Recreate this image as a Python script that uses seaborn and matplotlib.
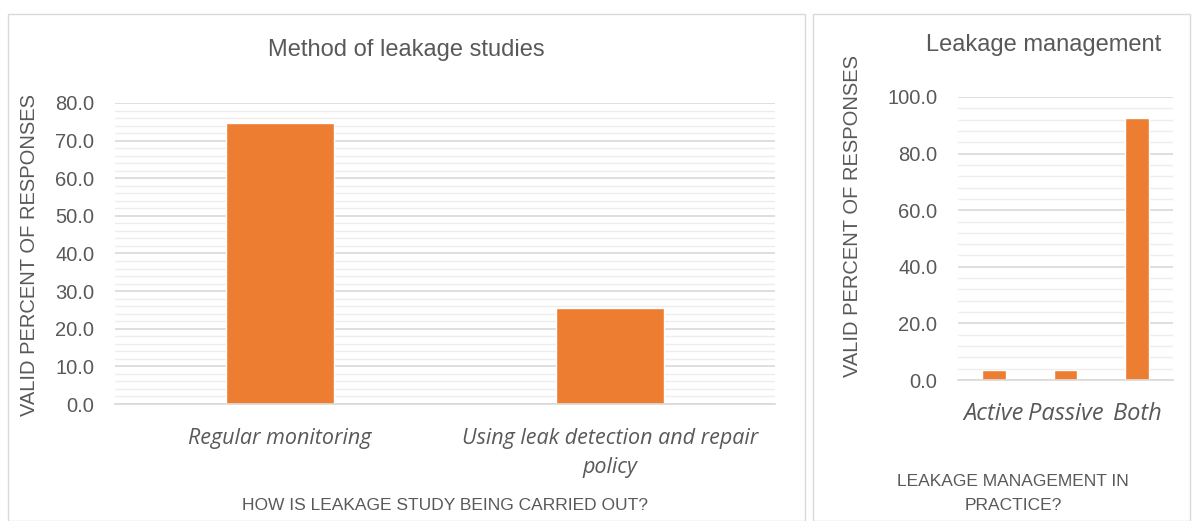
import seaborn as sns
import matplotlib.pyplot as plt
import pandas as pd
from matplotlib.patches import Rectangle
from matplotlib.ticker import MultipleLocator, FormatStrFormatter

# data
study_methods = ["Regular monitoring", "Using leak detection and repair\npolicy"]
study_pct = [74.6, 25.4]
mgmt_types = ["Active", "Passive", "Both"]
mgmt_pct = [3.7, 3.7, 92.6]

orange = "#ED7D31"
grey_text = "#595959"
major_grid = "#D9D9D9"
minor_grid = "#EDEDED"
narrow = ["Liberation Sans Narrow", "Liberation Sans"]

sns.set_style("white")
plt.rcParams["font.family"] = ["Liberation Sans", "DejaVu Sans"]

fig = plt.figure(figsize=(11.96, 5.21), dpi=100)
W, H = 1196, 521

# panel borders
for x0, x1 in [(8, 805), (813, 1190)]:
    fig.patches.append(Rectangle((x0 / W, 0), (x1 - x0) / W, 1 - 14 / H,
                                 transform=fig.transFigure, fill=False,
                                 edgecolor="#D9D9D9", lw=1))


def style_axes(ax, top, step, minor, xsize, xpad):
    ax.set_ylim(0, top)
    ax.yaxis.set_major_locator(MultipleLocator(step))
    ax.yaxis.set_minor_locator(MultipleLocator(minor))
    ax.yaxis.set_major_formatter(FormatStrFormatter("%.1f"))
    ax.grid(axis="y", which="major", color=major_grid, lw=1.2)
    ax.grid(axis="y", which="minor", color=minor_grid, lw=1)
    ax.set_axisbelow(True)
    for s in ["top", "right", "left"]:
        ax.spines[s].set_visible(False)
    ax.spines["bottom"].set_color(major_grid)
    ax.spines["bottom"].set_linewidth(1.2)
    ax.tick_params(axis="both", which="both", length=0, colors=grey_text)
    ax.tick_params(axis="y", labelsize=14.5, pad=15)
    ax.tick_params(axis="x", pad=xpad)
    for lab in ax.get_xticklabels():
        lab.set_fontstyle("italic")
        lab.set_family(["Open Sans", "DejaVu Sans"])
        lab.set_fontsize(xsize)
        lab.set_color(grey_text)
        lab.set_linespacing(1.55)
    ax.set_xlabel("")
    ax.set_ylabel("")


# left chart
ax1 = fig.add_axes([115 / W, 1 - 404 / H, 660 / W, 301 / H])
df1 = pd.DataFrame({"method": study_methods, "pct": study_pct})
sns.barplot(data=df1, x="method", y="pct", color=orange, width=0.33,
            saturation=1, ax=ax1)
style_axes(ax1, 80, 10, 2, 15.5, 17)
fig.text(30 / W, 1 - 255 / H, "VALID PERCENT OF RESPONSES", rotation=90,
         ha="center", va="center", fontsize=14.5, color=grey_text, family=narrow)
fig.text(445 / W, 1 - 506 / H, "HOW IS LEAKAGE STUDY BEING CARRIED OUT?",
         ha="center", va="center", fontsize=12.5, color=grey_text, family=narrow)
fig.text(406 / W, 1 - 50 / H, "Method of leakage studies", ha="center",
         va="center", fontsize=17, color=grey_text)

# right chart
ax2 = fig.add_axes([958 / W, 1 - 380 / H, 215 / W, 283 / H])
df2 = pd.DataFrame({"mode": mgmt_types, "pct": mgmt_pct})
sns.barplot(data=df2, x="mode", y="pct", color=orange, width=0.33,
            saturation=1, ax=ax2)
style_axes(ax2, 100, 20, 4, 17, 16)
fig.text(853 / W, 1 - 216 / H, "VALID PERCENT OF RESPONSES", rotation=90,
         ha="center", va="center", fontsize=14.5, color=grey_text, family=narrow)
fig.text(1013 / W, 1 - 494 / H, "LEAKAGE MANAGEMENT IN\nPRACTICE?", ha="center",
         va="center", fontsize=12.5, color=grey_text, linespacing=1.75,
         family=narrow)
fig.text(1044 / W, 1 - 45 / H, "Leakage management", ha="center", va="center",
         fontsize=17, color=grey_text)

fig.savefig("out.png", dpi=100)
